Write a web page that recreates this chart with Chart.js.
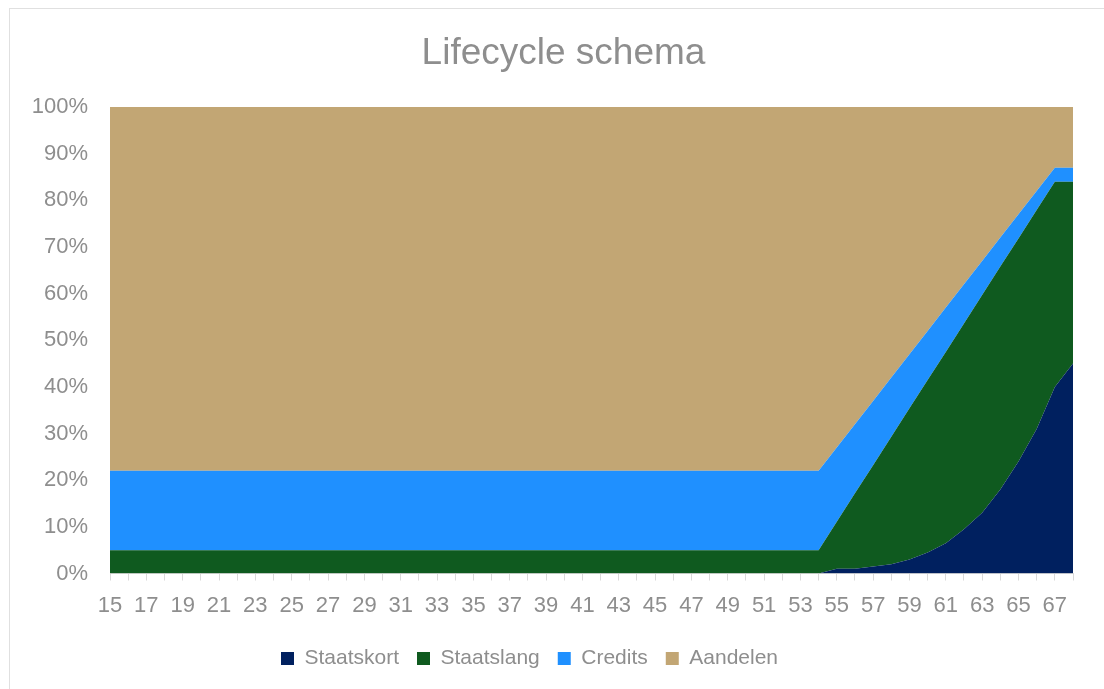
<!DOCTYPE html>
<html>
<head>
<meta charset="utf-8">
<script src="https://cdn.jsdelivr.net/npm/chart.js@4.4.1/dist/chart.umd.min.js"></script>
<style>
    html, body { margin: 0; padding: 0; background: #fff; }
    #wrap { position: relative; width: 1104px; height: 689px; overflow: hidden; }
    #frame {
        position: absolute; left: 9px; top: 8px; width: 1200px; height: 800px;
        border-top: 1px solid #e0e0e0; border-left: 1px solid #e0e0e0;
    }
    canvas { position: absolute; left: 0; top: 0; }
</style>
</head>
<body>
<div id="wrap">
    <div id="frame"></div>
    <canvas id="chart" width="1104" height="689"></canvas>
</div>
<script>
const ages = [];
for (let a = 15; a <= 68; a++) ages.push(String(a));

// percentages per age, 15 t/m 53 are constant
const staatskort = [
    0, 0, 0, 0, 0, 0, 0, 0, 0, 0, 0, 0, 0, 0, 0, 0, 0, 0, 0, 0, 0, 0, 0, 0, 0, 0, 0, 0, 0, 0, 0, 0, 0, 0, 0, 0, 0, 0, 0,
    0, 1, 1, 1.5, 2, 3, 4.5, 6.5, 9.5, 13, 18, 24, 31, 40, 45,
];
const staatslang = [
    5, 5, 5, 5, 5, 5, 5, 5, 5, 5, 5, 5, 5, 5, 5, 5, 5, 5, 5, 5, 5, 5, 5, 5, 5, 5, 5, 5, 5, 5, 5, 5, 5, 5, 5, 5, 5, 5, 5,
    5, 10.1, 16.2, 21.7, 27.3, 32.4, 37, 41, 44.1, 46.7, 47.8, 47.8, 46.9, 44, 39,
];
const credits = [
    17, 17, 17, 17, 17, 17, 17, 17, 17, 17, 17, 17, 17, 17, 17, 17, 17, 17, 17, 17, 17, 17, 17, 17, 17, 17, 17, 17, 17, 17, 17, 17, 17, 17, 17, 17, 17, 17, 17,
    17, 15.9, 14.8, 13.8, 12.7, 11.6, 10.5, 9.5, 8.4, 7.3, 6.2, 5.2, 4.1, 3, 3,
];
const aandelen = [
    78, 78, 78, 78, 78, 78, 78, 78, 78, 78, 78, 78, 78, 78, 78, 78, 78, 78, 78, 78, 78, 78, 78, 78, 78, 78, 78, 78, 78, 78, 78, 78, 78, 78, 78, 78, 78, 78, 78,
    78, 73, 68, 63, 58, 53, 48, 43, 38, 33, 28, 23, 18, 13, 13,
];
const yTicks = [0, 10, 20, 30, 40, 50, 60, 70, 80, 90, 100];

const grey = '#8e8e8e';
const font = 'Arial, "Liberation Sans", sans-serif';

const area = (label, data, color, fill) => ({
    label,
    data,
    backgroundColor: color,
    borderColor: color,
    borderWidth: 0,
    pointRadius: 0,
    tension: 0,
    fill,
});

// titel staat in het origineel iets rechts van het midden, legenda iets links
const shiftBoxes = {
    id: 'shiftBoxes',
    afterLayout(chart) {
        chart.titleBlock.left += 22;
        chart.titleBlock.right += 22;
        chart.legend.left -= 12;
        chart.legend.right -= 12;
    },
};

new Chart(document.getElementById('chart'), {
    type: 'line',
    data: {
        labels: ages,
        datasets: [
            area('Staatskort', staatskort, '#00205f', 'origin'),
            area('Staatslang', staatslang, '#0f5a1f', '-1'),
            area('Credits', credits, '#1f90ff', '-1'),
            area('Aandelen', aandelen, '#c2a674', '-1'),
        ],
    },
    plugins: [shiftBoxes],
    options: {
        responsive: false,
        animation: false,
        layout: { padding: { left: 10, right: 31, top: 0, bottom: 10 } },
        plugins: {
            title: {
                display: true,
                text: 'Lifecycle schema',
                color: grey,
                font: { family: font, size: 37, weight: 'normal', lineHeight: 1.2 },
                padding: { top: 32, bottom: 30.6 },
            },
            legend: {
                position: 'bottom',
                labels: {
                    color: grey,
                    font: { family: font, size: 21 },
                    boxWidth: 13,
                    boxHeight: 13,
                    padding: 18,
                },
            },
            tooltip: { enabled: false },
        },
        scales: {
            x: {
                stacked: true,
                offset: false,
                grid: { drawOnChartArea: false, color: '#d9d9d9', tickLength: 7 },
                border: { color: '#d9d9d9' },
                ticks: {
                    color: grey,
                    font: { family: font, size: 22 },
                    autoSkip: false,
                    maxRotation: 0,
                    padding: 12,
                    callback: (value, index) => (index % 2 === 0 ? ages[index] : ''),
                },
                afterFit: (scale) => { scale.height = 56.5; },
            },
            y: {
                stacked: true,
                min: 0,
                max: 100,
                grid: { display: false },
                border: { display: false },
                afterBuildTicks: (scale) => { scale.ticks = yTicks.map((v) => ({ value: v })); },
                ticks: {
                    color: grey,
                    font: { family: font, size: 22 },
                    padding: 14,
                    callback: (value) => value + '%',
                },
                afterFit: (scale) => { scale.width = 100; },
            },
        },
    },
});
</script>
</body>
</html>
